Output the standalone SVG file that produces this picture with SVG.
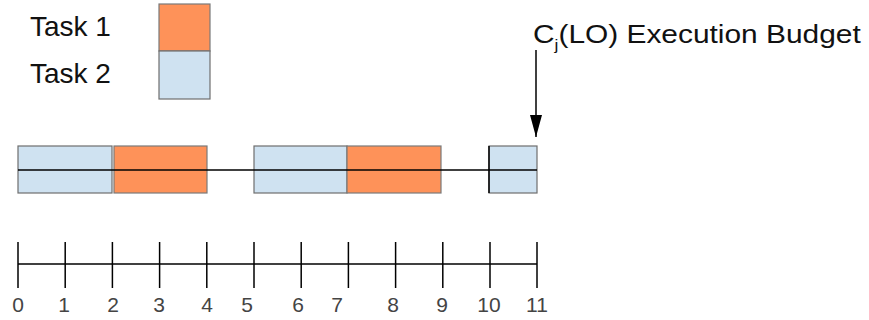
<svg xmlns="http://www.w3.org/2000/svg" width="869" height="320" viewBox="0 0 869 320">
  <defs>
    <marker id="head" viewBox="0 0 22 12" refX="22" refY="6" markerWidth="22" markerHeight="12" markerUnits="userSpaceOnUse" orient="auto">
      <path d="M0,0 L22,6 L0,12 Z" fill="#000"/>
    </marker>
  </defs>
  <style>
    text { font-family: "Liberation Sans", Arial, sans-serif; fill: #111; }
    .big { font-size: 28px; }
    .lbl { font-size: 26px; }
    .num { font-size: 21px; fill: #444; }
    .t1 { fill: #fe9259; stroke: #7a7a7a; stroke-width: 1.2; }
    .t2 { fill: #cfe2f1; stroke: #6e6e6e; stroke-width: 1.2; }
    .ln { stroke: #000; stroke-width: 1.5; fill: none; }
  </style>
  <rect width="869" height="320" fill="#fff"/>

  <!-- legend -->
  <g id="legend">
    <text class="big" x="30" y="36">Task 1</text>
    <text class="big" x="30" y="83">Task 2</text>
    <rect class="t1" x="159" y="4" width="51" height="47"/>
    <rect class="t2" x="159" y="51" width="51" height="48"/>
  </g>

  <!-- schedule blocks -->
  <g id="job-a"><rect class="t2" x="18" y="146" width="94" height="47"/></g>
  <g id="job-b"><rect class="t1" x="114" y="146" width="93" height="47"/></g>
  <g id="job-c"><rect class="t2" x="254" y="146" width="93" height="47"/></g>
  <g id="job-d"><rect class="t1" x="347" y="146" width="94" height="47"/></g>
  <g id="job-e"><rect class="t2" x="489" y="146" width="48" height="47"/></g>

  <!-- budget label -->
  <g id="budget">
    <text class="lbl" transform="translate(533 43) scale(1.15 1)">C<tspan font-size="15" dy="7">j</tspan><tspan dy="-7">(LO) Execution Budget</tspan></text>
  </g>

  <g id="connectors">
    <line class="ln" x1="18" y1="170" x2="537" y2="170"/>
    <line class="ln" x1="489" y1="146" x2="489" y2="193" stroke-width="2"/>
    <line class="ln" x1="536" y1="50" x2="536" y2="137" marker-end="url(#head)"/>
  </g>

  <!-- time axis -->
  <g id="axis">
    <line class="ln" x1="18" y1="264" x2="537" y2="264"/>
    <g class="ln">
      <line x1="18" y1="242" x2="18" y2="288"/>
      <line x1="65.2" y1="242" x2="65.2" y2="288"/>
      <line x1="112.4" y1="242" x2="112.4" y2="288"/>
      <line x1="159.6" y1="242" x2="159.6" y2="288"/>
      <line x1="206.8" y1="242" x2="206.8" y2="288"/>
      <line x1="254" y1="242" x2="254" y2="288"/>
      <line x1="301.2" y1="242" x2="301.2" y2="288"/>
      <line x1="348.4" y1="242" x2="348.4" y2="288"/>
      <line x1="395.6" y1="242" x2="395.6" y2="288"/>
      <line x1="442.8" y1="242" x2="442.8" y2="288"/>
      <line x1="490" y1="242" x2="490" y2="288"/>
      <line x1="537" y1="242" x2="537" y2="288"/>
    </g>
    <g text-anchor="middle">
      <text class="num" x="18" y="312">0</text>
      <text class="num" x="64" y="312">1</text>
      <text class="num" x="113" y="312">2</text>
      <text class="num" x="159" y="312">3</text>
      <text class="num" x="207" y="312">4</text>
      <text class="num" x="247" y="312">5</text>
      <text class="num" x="298" y="312">6</text>
      <text class="num" x="337" y="312">7</text>
      <text class="num" x="393" y="312">8</text>
      <text class="num" x="442" y="312">9</text>
      <text class="num" x="489" y="312">10</text>
      <text class="num" x="537" y="312">11</text>
    </g>
  </g>
</svg>
